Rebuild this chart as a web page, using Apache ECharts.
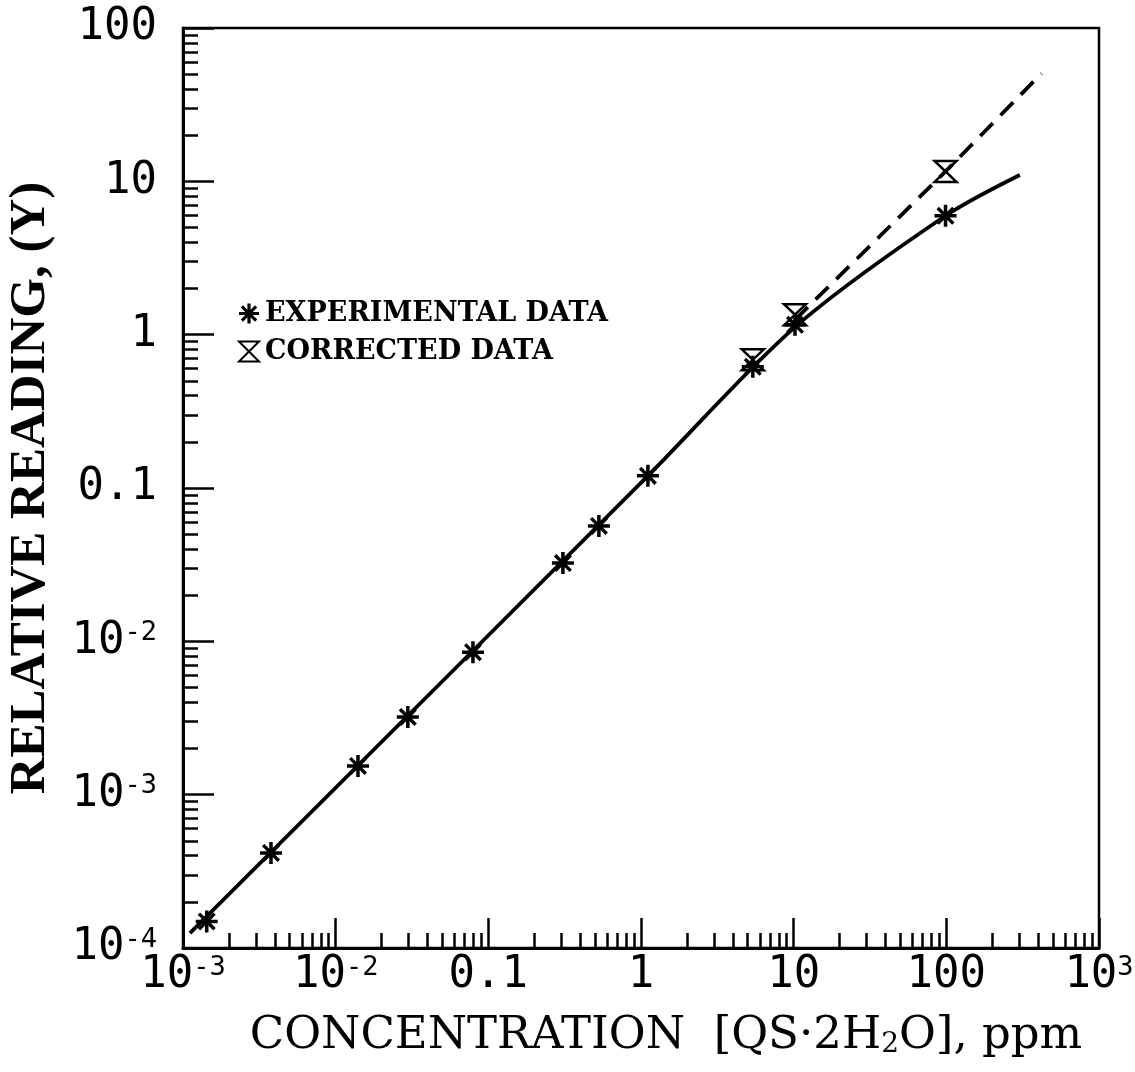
<!DOCTYPE html>
<html><head><meta charset="utf-8">
<script src="https://cdn.jsdelivr.net/npm/echarts@6/dist/echarts.min.js"></script>
<style>html,body{margin:0;padding:0;background:#fff}#c{width:1135px;height:1072px}</style>
</head><body><div id="c"></div>
<script>
// ---- data ----
const expX = [0.00143, 0.00377, 0.0140, 0.0297, 0.0793, 0.308, 0.530, 1.11, 5.4, 10.2, 98.8];
const expY = [1.49e-4, 4.17e-4, 1.54e-3, 3.21e-3, 8.5e-3, 0.0324, 0.0566, 0.120, 0.617, 1.16, 5.96];
const corX = [5.4, 10.2, 98.8];
const corY = [0.686, 1.35, 11.6];
const fitX = [0.00111, 1.11, 10.2, 98.8, 303];
const fitY = [1.25e-4, 0.120, 1.12, 5.96, 11.0];
const dashX = [10.2, 98.8, 420];
const dashY = [1.25, 11.6, 50.5];
const xTickValues = [0.001, 0.01, 0.1, 1, 10, 100, 1000];
const xTickLabels = ['10^-3', '10^-2', '0.1', '1', '10', '100', '10^3'];
const yTickValues = [1e-4, 1e-3, 1e-2, 0.1, 1, 10, 100];
const yTickLabels = ['10^-4', '10^-3', '10^-2', '0.1', '1', '10', '100'];
const minorMultipliers = [2, 3, 4, 5, 6, 7, 8, 9];
const legendNames = ['EXPERIMENTAL DATA', 'CORRECTED DATA'];
const xTitle = 'CONCENTRATION  [QS·2H{sub|2}O], ppm';
const yTitle = 'RELATIVE READING, (Y)';

function minorTicks(decades) {
  const out = [];
  decades.slice(0, -1).forEach(d => minorMultipliers.forEach(m => out.push(+(d * m).toPrecision(6))));
  return out;
}
function pairs(xs, ys) { return xs.map((x, i) => [x, ys[i]]); }
function fmt(values, labels) {
  return function (v) {
    const i = values.findIndex(t => Math.abs(Math.log10(t) - Math.log10(v)) < 1e-6);
    if (i < 0) return '';
    const s = labels[i];
    const k = s.indexOf('^');
    return k < 0 ? '{b|' + s + '}' : '{b|' + s.slice(0, k) + '}{s|' + s.slice(k + 1) + '}';
  };
}
const tickFont = 'DejaVu Sans Mono';
const labelRich = {
  b: { fontFamily: tickFont, fontSize: 44, color: '#000' },
  s: { fontFamily: tickFont, fontSize: 27, color: '#000', verticalAlign: 'top', lineHeight: 12 }
};

const asterisk = 'path://M-10,-1.6 L10,-1.6 L10,1.6 L-10,1.6 Z M-1.6,-10 L1.6,-10 L1.6,10 L-1.6,10 Z ' +
  'M6.0,8.2 L-8.2,-6.0 L-6.0,-8.2 L8.2,6.0 Z M8.2,-6.0 L-6.0,8.2 L-8.2,6.0 L6.0,-8.2 Z';
const hourglass = 'path://M-10,-10 L10,-10 L0,0 Z M0,0 L10,10 L-10,10 Z';

const gridBox = { left: 183, right: 36, top: 28, bottom: 124, outerBoundsMode: 'none', containLabel: false };

const chart = echarts.init(document.getElementById('c'), null, { renderer: 'canvas' });
chart.setOption({
  animation: false,
  backgroundColor: '#fff',
  grid: [
    Object.assign({ show: true, borderColor: '#000', borderWidth: 2.5, backgroundColor: 'transparent' }, gridBox),
    Object.assign({ show: false }, gridBox)
  ],
  legend: {
    show: true, orient: 'vertical', left: 233, top: 295, itemWidth: 22, itemHeight: 20, itemGap: 11,
    selectedMode: false, data: legendNames,
    textStyle: { fontFamily: 'DejaVu Serif', fontWeight: 'bold', fontSize: 27, color: '#000' }
  },
  xAxis: [{
    type: 'log', logBase: 10, min: 0.001, max: 1000, gridIndex: 0, position: 'bottom',
    axisLine: { show: true, onZero: false, lineStyle: { color: '#000', width: 3 } },
    axisTick: { show: true, inside: true, length: 30, customValues: xTickValues, lineStyle: { color: '#000', width: 2.5 } },
    axisLabel: { show: true, customValues: xTickValues, margin: 6, formatter: fmt(xTickValues, xTickLabels), rich: labelRich, hideOverlap: false },
    splitLine: { show: false }, minorTick: { show: false },
    name: xTitle, nameLocation: 'middle', nameGap: 66,
    nameTextStyle: { fontFamily: 'DejaVu Serif', fontSize: 45, color: '#000', padding: [0, 0, 0, 50],
      rich: { sub: { fontFamily: 'DejaVu Serif', fontSize: 28, color: '#000', verticalAlign: 'bottom', lineHeight: 30 } } }
  }, {
    type: 'log', logBase: 10, min: 0.001, max: 1000, gridIndex: 1, position: 'bottom',
    axisLine: { show: false },
    axisTick: { show: true, inside: true, length: 15, customValues: minorTicks(xTickValues), lineStyle: { color: '#000', width: 2.5 } },
    axisLabel: { show: false }, splitLine: { show: false }
  }],
  yAxis: [{
    type: 'log', logBase: 10, min: 1e-4, max: 100, gridIndex: 0, position: 'left',
    axisLine: { show: true, onZero: false, lineStyle: { color: '#000', width: 3 } },
    axisTick: { show: true, inside: true, length: 31, customValues: yTickValues, lineStyle: { color: '#000', width: 2.5 } },
    axisLabel: { show: true, customValues: yTickValues, margin: 26, formatter: fmt(yTickValues, yTickLabels), rich: labelRich, hideOverlap: false },
    splitLine: { show: false }, minorTick: { show: false },
    name: yTitle, nameLocation: 'middle', nameGap: 127, nameRotate: 90,
    nameTextStyle: { fontFamily: 'Liberation Serif', fontWeight: 'bold', fontSize: 51, color: '#000' }
  }, {
    type: 'log', logBase: 10, min: 1e-4, max: 100, gridIndex: 1, position: 'left',
    axisLine: { show: false },
    axisTick: { show: true, inside: true, length: 15, customValues: minorTicks(yTickValues), lineStyle: { color: '#000', width: 2.5 } },
    axisLabel: { show: false }, splitLine: { show: false }
  }],
  series: [{
    name: 'fit', type: 'line', xAxisIndex: 0, yAxisIndex: 0, data: pairs(fitX, fitY),
    showSymbol: false, symbol: 'none', smooth: 0.3, silent: true, z: 2,
    lineStyle: { color: '#000', width: 3.8 }
  }, {
    name: 'fit-corrected', type: 'line', xAxisIndex: 0, yAxisIndex: 0, data: pairs(dashX, dashY),
    showSymbol: false, symbol: 'none', silent: true, z: 2,
    lineStyle: { color: '#000', width: 3.8, type: [18, 11] }
  }, {
    name: legendNames[1], type: 'scatter', xAxisIndex: 0, yAxisIndex: 0, data: pairs(corX, corY),
    symbol: hourglass, symbolSize: [22, 21], z: 4,
    itemStyle: { color: 'rgba(255,255,255,0)', borderColor: '#000', borderWidth: 2.5, opacity: 1 }
  }, {
    name: legendNames[0], type: 'scatter', xAxisIndex: 0, yAxisIndex: 0, data: pairs(expX, expY),
    symbol: asterisk, symbolSize: 22, z: 5,
    itemStyle: { color: '#000', opacity: 1 }
  }]
});
</script>
</body></html>
